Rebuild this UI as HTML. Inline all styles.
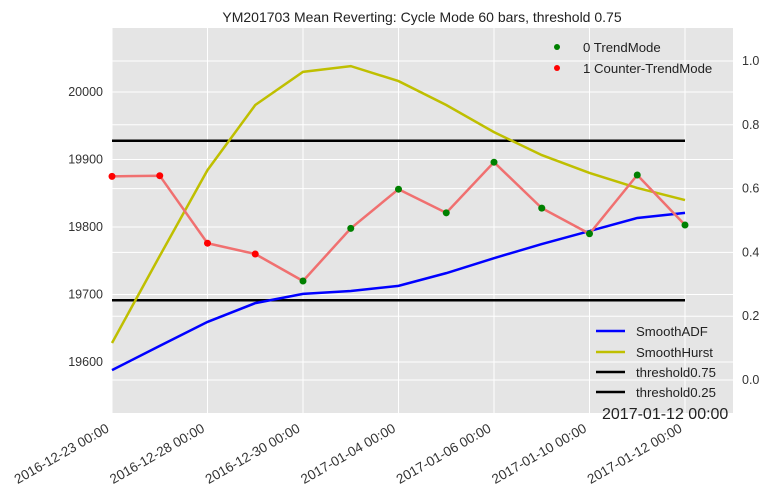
<!DOCTYPE html>
<html><head><meta charset="utf-8"><style>
body{margin:0;background:#fff;}
svg{display:block;font-family:"Liberation Sans",sans-serif;}
</style></head><body>
<svg id="chart" width="771" height="500">
<rect x="112" y="28" width="621" height="385" fill="#e5e5e5"/>
<g id="grid"></g><g id="marks"></g><g id="axes"></g>
<text x="422" y="22" font-size="14" text-anchor="middle" fill="#222">YM201703 Mean Reverting: Cycle Mode 60 bars, threshold 0.75</text>
<text x="602" y="419" font-size="16" fill="#222">2017-01-12 00:00</text>
<g>
<circle cx="557" cy="47" r="3" fill="green"/><text x="583" y="52" font-size="13.2" fill="#222">0 TrendMode</text>
<circle cx="557" cy="68" r="3" fill="red"/><text x="583" y="73" font-size="13.2" fill="#222">1 Counter-TrendMode</text>
</g>
<g>
<line x1="596" y1="331" x2="625" y2="331" stroke="blue" stroke-width="2.5"/><text x="636" y="336" font-size="13.2" fill="#222">SmoothADF</text>
<line x1="596" y1="352" x2="625" y2="352" stroke="#bfbf00" stroke-width="2.5"/><text x="636" y="357" font-size="13.2" fill="#222">SmoothHurst</text>
<line x1="596" y1="372" x2="625" y2="372" stroke="black" stroke-width="2.5"/><text x="636" y="377" font-size="13.2" fill="#222">threshold0.75</text>
<line x1="596" y1="392" x2="625" y2="392" stroke="black" stroke-width="2.5"/><text x="636" y="397" font-size="13.2" fill="#222">threshold0.25</text>
</g>
</svg>
<script>
const dateLabels = ["2016-12-23 00:00","2016-12-28 00:00","2016-12-30 00:00","2017-01-04 00:00","2017-01-06 00:00","2017-01-10 00:00","2017-01-12 00:00"];
const closePrices = [19875,19876,19776,19760,19720,19798,19856,19821,19896,19828,19790,19877,19803];
const modes = [1,1,1,1,0,0,0,0,0,0,0,0,0];
const hurst = [0.116,0.389,0.658,0.862,0.966,0.984,0.937,0.862,0.777,0.705,0.649,0.602,0.564];
const adf = [0.031,0.107,0.182,0.241,0.270,0.279,0.295,0.335,0.382,0.426,0.467,0.508,0.524];
const thresholds = [0.75,0.25];
const leftTicks = [19600,19700,19800,19900,20000];
const rightTicks = [0.0,0.2,0.4,0.6,0.8,1.0];

const NS="http://www.w3.org/2000/svg";
const X0=112,X1=733,Y0=28,Y1=413;
const n=closePrices.length;
const xs=i=>112+i*(685-112)/(n-1);
const yL=v=>362-(v-19600)*0.675;
const yR=v=>380-v*319;
function mk(tag,attrs,parent){const e=document.createElementNS(NS,tag);for(const k in attrs)e.setAttribute(k,attrs[k]);parent.appendChild(e);return e;}
const grid=document.getElementById('grid'),marks=document.getElementById('marks'),axes=document.getElementById('axes');
leftTicks.forEach(v=>{
  const l=mk('line',{x1:X0,x2:X1,y1:yL(v),y2:yL(v),stroke:'#fff','stroke-width':1},grid);
  
  
  const t=mk('text',{x:103,y:yL(v)+4,'font-size':12.5,'text-anchor':'end',fill:'#333'},axes);
  t.textContent=v;
  
  
});
rightTicks.forEach(v=>{
  const l=mk('line',{x1:X0,x2:X1,y1:yR(v),y2:yR(v),stroke:'#fff','stroke-width':1},grid);
  
  
  const t=mk('text',{x:742,y:yR(v)+4,'font-size':12.5,fill:'#333'},axes);
  t.textContent=v.toFixed(1);
  
  
});
dateLabels.forEach((d,k)=>{
  const x=xs(k*2);
  const l=mk('line',{x1:x,x2:x,y1:Y0,y2:Y1,stroke:'#fff','stroke-width':1},grid);
  
  
  const tx=x-2, ty=431;
  const t=mk('text',{x:tx,y:ty,'font-size':13.5,'text-anchor':'end',fill:'#333',transform:`rotate(-30 ${tx} ${ty})`},axes);
  t.textContent=d;
  
  
});
function poly(vals,fy,col,w,name,op){
  const p=mk('polyline',{points:vals.map((v,i)=>xs(i)+','+fy(v)).join(' '),fill:'none',stroke:col,'stroke-width':w,'stroke-opacity':op||1},marks);
  
  
}
thresholds.forEach(t=>{
  const l=mk('line',{x1:xs(0),x2:xs(n-1),y1:yR(t),y2:yR(t),stroke:'black','stroke-width':2.5},marks);
  
  
});
poly(hurst,yR,'#bfbf00',2.5,'smooth-hurst-line');
poly(adf,yR,'blue',2.5,'smooth-adf-line');
poly(closePrices,yL,'#f07070',2.5,'close-price-line');
closePrices.forEach((v,i)=>{
  const c=mk('circle',{cx:xs(i),cy:yL(v),r:3.5,fill:modes[i]?'red':'green'},marks);
  
  
});
</script>
</body></html>
